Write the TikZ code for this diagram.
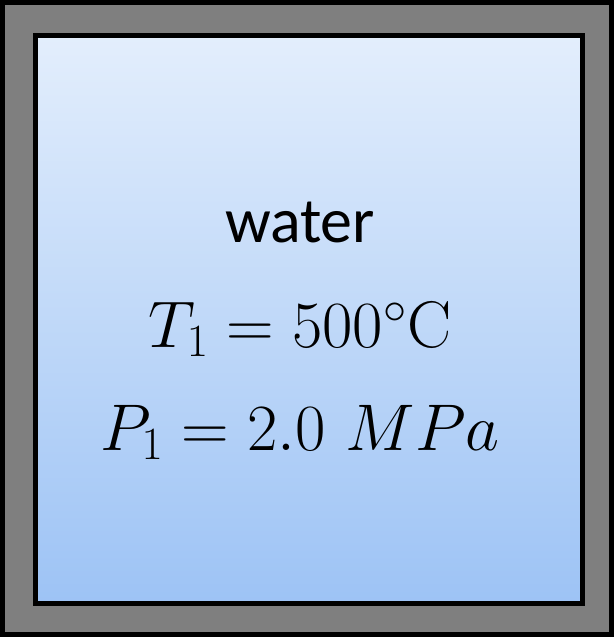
\RequirePackage{fix-cm}
\documentclass[tikz,border=0pt]{standalone}
\usepackage{fontspec}
\setsansfont{Carlito}
\definecolor{wallgray}{RGB}{127,127,127}
\definecolor{watertop}{RGB}{227,238,252}
\definecolor{waterbot}{RGB}{157,195,245}
\begin{document}
\begin{tikzpicture}[x=1pt,y=-1pt]
\path[use as bounding box] (0,0) rectangle (615,638);
% tank wall
\path[fill=wallgray,draw=black,line width=5pt] (2.5,2.5) rectangle (611.5,634.5);
% water inside
\path[top color=watertop,bottom color=waterbot,draw=black,line width=5pt] (35,35) rectangle (582.5,603.5);
\node[inner sep=0pt,outer sep=0pt,anchor=base,font=\sffamily\fontsize{64}{72}\selectfont] (label) at (300,242) {water};
\node[inner sep=0pt,outer sep=0pt,anchor=base,font=\fontsize{66}{74}\selectfont] (temp) at (300,347) {$T_1 = 500{}^{\circ}\mathrm{C}$};
\node[inner sep=0pt,outer sep=0pt,anchor=base,font=\fontsize{66}{74}\selectfont] (press) at (300,450) {$P_1 = 2.0\ MPa$};
\end{tikzpicture}
\end{document}
